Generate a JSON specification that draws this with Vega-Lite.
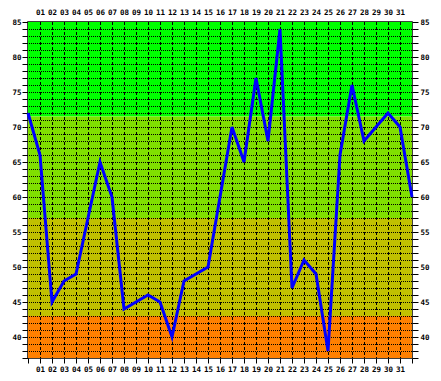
{
  "$schema": "https://vega.github.io/schema/vega-lite/v6.json",
  "width": 384,
  "height": 336,
  "autosize": {"type": "none"},
  "padding": {"left": 28, "top": 22, "right": 29, "bottom": 23},
  "background": "white",
  "datasets": {
    "series": [
      {"day": 0, "value": 72}, {"day": 1, "value": 66}, {"day": 2, "value": 45}, {"day": 3, "value": 48},
      {"day": 4, "value": 49}, {"day": 5, "value": 57}, {"day": 6, "value": 65}, {"day": 7, "value": 60},
      {"day": 8, "value": 44}, {"day": 9, "value": 45}, {"day": 10, "value": 46}, {"day": 11, "value": 45},
      {"day": 12, "value": 40}, {"day": 13, "value": 48}, {"day": 14, "value": 49}, {"day": 15, "value": 50},
      {"day": 16, "value": 60}, {"day": 17, "value": 70}, {"day": 18, "value": 65}, {"day": 19, "value": 77},
      {"day": 20, "value": 68}, {"day": 21, "value": 84}, {"day": 22, "value": 47}, {"day": 23, "value": 51},
      {"day": 24, "value": 49}, {"day": 25, "value": 38}, {"day": 26, "value": 66}, {"day": 27, "value": 76},
      {"day": 28, "value": 68}, {"day": 29, "value": 70}, {"day": 30, "value": 72}, {"day": 31, "value": 70},
      {"day": 32, "value": 60}
    ],
    "bands": [
      {"band": "high", "lo": 71.5, "hi": 85},
      {"band": "good", "lo": 57, "hi": 71.5},
      {"band": "mid", "lo": 43, "hi": 57},
      {"band": "low", "lo": 37, "hi": 43}
    ],
    "levels": [
      {"level": 38}, {"level": 39}, {"level": 40}, {"level": 41}, {"level": 42}, {"level": 43}, {"level": 44},
      {"level": 45}, {"level": 46}, {"level": 47}, {"level": 48}, {"level": 49}, {"level": 50}, {"level": 51},
      {"level": 52}, {"level": 53}, {"level": 54}, {"level": 55}, {"level": 56}, {"level": 57}, {"level": 58},
      {"level": 59}, {"level": 60}, {"level": 61}, {"level": 62}, {"level": 63}, {"level": 64}, {"level": 65},
      {"level": 66}, {"level": 67}, {"level": 68}, {"level": 69}, {"level": 70}, {"level": 71}, {"level": 72},
      {"level": 73}, {"level": 74}, {"level": 75}, {"level": 76}, {"level": 77}, {"level": 78}, {"level": 79},
      {"level": 80}, {"level": 81}, {"level": 82}, {"level": 83}, {"level": 84}
    ]
  },
  "config": {
    "view": {"stroke": "black", "strokeWidth": 1.5},
    "axis": {
      "labelFont": "DejaVu Sans Mono",
      "labelFontSize": 7.5,
      "labelFontWeight": "bold",
      "labelColor": "black",
      "tickColor": "black",
      "tickWidth": 1,
      "domain": false,
      "grid": false,
      "title": null,
      "labelOverlap": false,
      "labelFlush": false
    }
  },
  "resolve": {"axis": {"x": "independent", "y": "independent"}},
  "layer": [
    {
      "data": {"name": "bands"},
      "mark": {"type": "rect"},
      "encoding": {
        "y": {"field": "lo", "type": "quantitative", "scale": {"domain": [37, 85], "nice": false, "zero": false}, "axis": null},
        "y2": {"field": "hi"},
        "color": {
          "field": "band", "type": "nominal", "legend": null,
          "scale": {"domain": ["high", "good", "mid", "low"], "range": ["#00ff00", "#80e000", "#c0c000", "#ff8000"]}
        }
      }
    },
    {
      "data": {"name": "levels"},
      "mark": {"type": "rule", "color": "black", "strokeWidth": 1, "strokeDash": [1, 1], "yOffset": 0.5},
      "encoding": {
        "y": {"field": "level", "type": "quantitative", "scale": {"domain": [37, 85], "nice": false, "zero": false}, "axis": null}
      }
    },
    {
      "data": {"name": "series"},
      "transform": [{"filter": "datum.day >= 1 && datum.day <= 31"}],
      "mark": {"type": "rule", "color": "black", "strokeWidth": 1, "strokeDash": [3, 2], "xOffset": 0.5},
      "encoding": {
        "x": {"field": "day", "type": "quantitative", "scale": {"domain": [0, 32], "nice": false, "zero": false}, "axis": null}
      }
    },
    {
      "data": {"name": "series"},
      "mark": {"type": "line", "color": "#0000ff", "strokeWidth": 3, "strokeJoin": "miter"},
      "encoding": {
        "x": {
          "field": "day", "type": "quantitative",
          "scale": {"domain": [0, 32], "nice": false, "zero": false},
          "axis": {
            "orient": "bottom",
            "values": [0,1,2,3,4,5,6,7,8,9,10,11,12,13,14,15,16,17,18,19,20,21,22,23,24,25,26,27,28,29,30,31,32],
            "labelExpr": "datum.value >= 1 && datum.value <= 31 ? (datum.value < 10 ? '0' + datum.value : '' + datum.value) : ''",
            "tickSize": 5, "labelPadding": 2
          }
        },
        "y": {
          "field": "value", "type": "quantitative",
          "scale": {"domain": [37, 85], "nice": false, "zero": false},
          "axis": {
            "orient": "left",
            "values": [37,38,39,40,41,42,43,44,45,46,47,48,49,50,51,52,53,54,55,56,57,58,59,60,61,62,63,64,65,66,67,68,69,70,71,72,73,74,75,76,77,78,79,80,81,82,83,84,85],
            "labelExpr": "datum.value % 5 == 0 ? '' + datum.value : ''",
            "tickSize": 6, "labelPadding": 1
          }
        }
      }
    },
    {
      "data": {"name": "series"},
      "mark": {"type": "point", "opacity": 0},
      "encoding": {
        "x": {
          "field": "day", "type": "quantitative",
          "scale": {"domain": [0, 32], "nice": false, "zero": false},
          "axis": {
            "orient": "top",
            "values": [1,2,3,4,5,6,7,8,9,10,11,12,13,14,15,16,17,18,19,20,21,22,23,24,25,26,27,28,29,30,31],
            "labelExpr": "datum.value < 10 ? '0' + datum.value : '' + datum.value",
            "ticks": false, "labelPadding": 6
          }
        },
        "y": {
          "field": "value", "type": "quantitative",
          "scale": {"domain": [37, 85], "nice": false, "zero": false},
          "axis": {
            "orient": "right",
            "values": [37,38,39,40,41,42,43,44,45,46,47,48,49,50,51,52,53,54,55,56,57,58,59,60,61,62,63,64,65,66,67,68,69,70,71,72,73,74,75,76,77,78,79,80,81,82,83,84,85],
            "labelExpr": "datum.value % 5 == 0 ? '' + datum.value : ''",
            "tickSize": 6, "labelPadding": 2
          }
        }
      }
    }
  ]
}
